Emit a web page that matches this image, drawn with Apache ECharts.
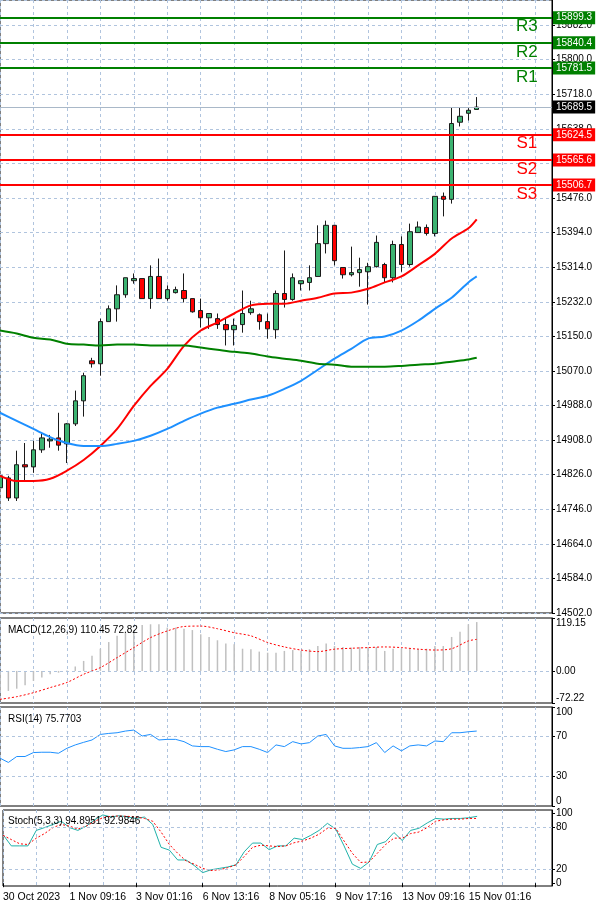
<!DOCTYPE html>
<html><head><meta charset="utf-8">
<script src="https://cdn.jsdelivr.net/npm/echarts@6/dist/echarts.min.js"></script>
<style>html,body{margin:0;padding:0;background:#fff}#c{width:600px;height:907px}</style>
</head><body><div id="c"></div>
<script>
// ---- data ----
const xTickLabels = ['30 Oct 2023','1 Nov 09:16','3 Nov 01:16','6 Nov 13:16','8 Nov 05:16','9 Nov 17:16','13 Nov 09:16','15 Nov 01:16'];
const priceTickLabels = ['14502.0','14584.0','14664.0','14746.0','14826.0','14908.0','14988.0','15070.0','15150.0','15232.0','15314.0','15394.0','15476.0','15558.0','15638.0','15718.0','15800.0','15882.0'];
// [open, close, low, high]
const candles = [
[14796,14824,14789,14836],[14819,14772,14765,14824],[14772,14850,14765,14883],[14850,14845,14812,14901],
[14845,14885,14831,14906],[14885,14913,14878,14923],[14906,14910,14890,14920],[14913,14896,14883,14972],
[14899,14946,14854,14948],[14946,15000,14941,15024],[15000,15059,14963,15066],[15094,15087,15078,15101],
[15087,15186,15059,15193],[15186,15216,15186,15224],[15216,15249,15186,15271],[15249,15289,15242,15289],
[15282,15287,15275,15299],[15287,15240,15240,15287],[15240,15292,15216,15318],[15292,15240,15240,15334],
[15240,15261,15235,15271],[15254,15261,15252,15268],[15259,15240,15231,15299],[15240,15209,15207,15240],
[15212,15195,15172,15240],[15195,15205,15169,15205],[15193,15179,15169,15205],[15179,15167,15130,15195],
[15167,15177,15130,15193],[15179,15205,15160,15259],[15207,15216,15202,15235],[15202,15186,15167,15205],
[15186,15169,15146,15205],[15167,15252,15146,15259],[15252,15238,15219,15353],[15238,15289,15235,15299],
[15275,15282,15259,15282],[15278,15289,15259,15318],[15292,15369,15292,15412],[15369,15412,15346,15423],
[15412,15329,15318,15412],[15313,15296,15287,15313],[15296,15301,15292,15362],[15301,15308,15268,15336],
[15303,15315,15226,15324],[15315,15372,15313,15388],[15320,15289,15278,15324],[15289,15367,15278,15376],
[15367,15320,15303,15386],[15320,15397,15315,15416],[15395,15408,15395,15421],[15407,15393,15388,15414],
[15393,15480,15386,15480],[15480,15473,15433,15489],[15473,15651,15463,15689],[15654,15668,15644,15689],
[15675,15682,15658,15687],[15684,15689.5,15684,15713]
];
const maIdx = [0,2,4,6,8,10,12,14,16,18,20,22,24,26,28,30,32,34,36,38,40,42,44,46,48,50,52,54,56,57];
const maRed = [14824,14812,14812,14817,14836,14861,14894,14934,14988,15035,15075,15129,15165,15184,15205,15224,15228,15228,15235,15242,15252,15254,15263,15278,15292,15318,15345,15381,15405,15426];
const maBlue = [14972,14953,14934,14915,14901,14894,14894,14899,14906,14918,14934,14953,14970,14984,14993,15003,15012,15028,15047,15073,15099,15122,15146,15151,15165,15188,15216,15242,15278,15292];
const maGreen = [15165,15158,15148,15144,15134,15132,15130,15132,15132,15130,15130,15130,15125,15120,15115,15111,15104,15099,15094,15087,15085,15080,15080,15080,15082,15085,15087,15092,15097,15101];
const levelNames = ['R3','R2','R1','S1','S2','S3'];
const levelValues = [15899.3,15840.4,15781.5,15624.5,15565.6,15506.7];
const lastPrice = 15689.5;
const macdHist = [-48,-45,-40,-32,-22.5,-15,-7.5,-4,1,10,22.5,34,50,65,79,86,92,103.5,105,105,97.5,97.5,95,92,82.5,76.5,69,61.5,60,50,49,43.5,41,41,45,47,45,49,56,61.5,56,54,52.5,54,54,54,45,50,50,50,50,50,56,56,76.5,88,105,110];
const macdSigIdx = maIdx;
const macdSignal = [-64,-58,-49,-37.5,-26,-7.5,7.5,30,52.5,75,90,100,101,95,86,79,64,54,47,43.5,49,51,52.5,54,52.5,49,47,50,67.5,71];
const rsi = [48.3,44,50,50,54,54.3,54.3,53.3,58.3,61.7,64.3,66.7,72.3,73.3,74,75.7,76.7,70.7,72.3,66.7,67.3,67.3,65,60.7,60,60,57.3,55,56.7,60,60,57.3,54,61.7,60,65,62.7,64,70.7,72.3,60.7,58.3,58.3,59,60,64,54,60.7,55.7,60.7,61.7,60.7,65.7,65,74,74,75,75.7];
const stochK = [69,53,53,53,75,79,83.5,88,79,75,81,90,97,94,96,94,92,94,83.5,51,47,33,33,25,15,19,21,23,26,44.6,57,57,47.6,53,53,64,62,68,75,85,77,53,27,21,30,55,59,72,60.6,75,78,85.6,92,91,92,92,93,95];
const stochD = [68,62,56,55,64,70.5,79,83.5,81,77,81,88,93,95,95.5,95,94,92,88,72.7,55,42.5,31.7,27,21,18,19,22,26,38,51,54,53,52,53,57.5,60,64,69.6,78,78,60,42.5,29.5,30,42.5,55,64,64,70.5,72.7,79,88,90,91,91,92,92];

// ---- chart ----
const N = 67;
const cats = Array.from({length:N},(_,i)=>i);
const pair = (idx, vals) => idx.map((k,j)=>[k, vals[j]]);
const gridCol = '#b0c4de';
const FONT = 'Liberation Sans';
const xBase = (gi, showLabel) => ({
  type:'category', gridIndex:gi, data:cats, boundaryGap:false,
  axisLine:{show:false}, axisTick:{show:showLabel, interval:7, length:4, lineStyle:{color:'#000'}},
  axisLabel:{show:showLabel, interval:7, align:'left', color:'#000', fontFamily:FONT, fontSize:10.5, margin:6,
    formatter:(v)=> xTickLabels[Math.round(v/8)] || ''},
  splitLine:{show:true, interval:3, lineStyle:{color:gridCol, type:[3,3]}}
});
const axLbl = {color:'#000', fontFamily:FONT, fontSize:10, margin:4};
const pMin = 14502, pInt = 1380/17, pMax = 15940.9;
const levelColor = n => n[0]==='R' ? '#008000' : '#ff0000';

const option = {
  animation:false, backgroundColor:'#fff',
  title:[
    {text:'MACD(12,26,9) 110.45 72.82', left:3, top:620, textStyle:{fontSize:10, fontWeight:'normal', color:'#000', fontFamily:FONT}},
    {text:'RSI(14) 75.7703', left:3, top:709, textStyle:{fontSize:10, fontWeight:'normal', color:'#000', fontFamily:FONT}},
    {text:'Stoch(5,3,3) 94.8951 92.9846', left:3, top:811, textStyle:{fontSize:10, fontWeight:'normal', color:'#000', fontFamily:FONT}}
  ],
  grid:[
    {left:0, right:48, top:0, height:613, show:true, borderColor:'#000', borderWidth:1},
    {left:0, right:48, top:618, height:85, show:true, borderColor:'#000', borderWidth:1},
    {left:0, right:48, top:707, height:99, show:true, borderColor:'#000', borderWidth:1},
    {left:0, right:48, top:810, height:76, show:true, borderColor:'#000', borderWidth:1}
  ],
  xAxis:[xBase(0,false), xBase(1,false), xBase(2,false), xBase(3,true)],
  yAxis:[
    {gridIndex:0, position:'right', min:pMin, max:pMax, interval:pInt,
     axisLine:{show:true, lineStyle:{color:'#000'}}, axisTick:{show:true, length:3, lineStyle:{color:'#000'}},
     axisLabel:Object.assign({}, axLbl, {showMaxLabel:false, formatter:v=>priceTickLabels[Math.round((v-pMin)/pInt)]||''}),
     splitLine:{show:true, lineStyle:{color:gridCol, type:[3,3]}}},
    {gridIndex:1, position:'right', min:-72.22, max:119.15,
     axisLine:{show:true, lineStyle:{color:'#000'}}, axisTick:{show:true, length:3, customValues:[-72.22,0,119.15]},
     axisLabel:Object.assign({}, axLbl, {customValues:[-72.22,0,119.15], verticalAlignMaxLabel:'top', verticalAlignMinLabel:'bottom', formatter:v=>v.toFixed(2)}),
     splitLine:{show:false}},
    {gridIndex:2, position:'right', min:0, max:100,
     axisLine:{show:true, lineStyle:{color:'#000'}}, axisTick:{show:true, length:3, customValues:[0,30,70,100]},
     axisLabel:Object.assign({}, axLbl, {customValues:[0,30,70,100], verticalAlignMaxLabel:'top', verticalAlignMinLabel:'bottom'}),
     splitLine:{show:false}},
    {gridIndex:3, position:'right', min:-4, max:104,
     axisLine:{show:true, lineStyle:{color:'#000'}}, axisTick:{show:true, length:3, customValues:[0,20,80,100]},
     axisLabel:Object.assign({}, axLbl, {customValues:[0,20,80,100]}),
     splitLine:{show:false}}
  ],
  series:[
    {type:'candlestick', xAxisIndex:0, yAxisIndex:0, data:candles, barWidth:5,
     itemStyle:{color:'#3cb371', color0:'#ff0000', borderColor:'#1a1a1a', borderColor0:'#1a1a1a', borderWidth:1},
     markLine:{symbol:'none', silent:true,
       data:[
         ...levelValues.map((v,i)=>({yAxis:v, lineStyle:{color:levelColor(levelNames[i]), width:2, type:'solid'},
           label:{show:true, position:'end', distance:1, formatter:v.toFixed(1), color:'#fff', backgroundColor:levelColor(levelNames[i]), padding:[2,3,1,3], fontSize:10, fontFamily:FONT}})),
         {yAxis:lastPrice, lineStyle:{color:'#a9b8c8', width:1, type:'solid'},
          label:{show:true, position:'end', distance:1, formatter:lastPrice.toFixed(1), color:'#fff', backgroundColor:'#000', padding:[2,3,1,3], fontSize:10, fontFamily:FONT}}
       ]},
     markPoint:{symbol:'circle', symbolSize:0, silent:true,
       data: levelNames.map((n,i)=>({coord:[63, levelValues[i]], label:{show:true, formatter:n, color:levelColor(n), fontSize:17, fontFamily:FONT, offset:[0,9]}}))}
    },
    {type:'line', xAxisIndex:0, yAxisIndex:0, data:pair(maIdx,maRed), smooth:0.3, showSymbol:false, lineStyle:{color:'#ff0000', width:2}},
    {type:'line', xAxisIndex:0, yAxisIndex:0, data:pair(maIdx,maBlue), smooth:0.3, showSymbol:false, lineStyle:{color:'#1e90ff', width:2}},
    {type:'line', xAxisIndex:0, yAxisIndex:0, data:pair(maIdx,maGreen), smooth:0.3, showSymbol:false, lineStyle:{color:'#008000', width:2}},
    {type:'bar', xAxisIndex:1, yAxisIndex:1, data:macdHist, barWidth:1.5, itemStyle:{color:'#c0c0c0'}},
    {type:'line', xAxisIndex:1, yAxisIndex:1, data:pair(macdSigIdx,macdSignal), smooth:0.3, showSymbol:false, lineStyle:{color:'#ff0000', width:1, type:[2,2]},
     markLine:{symbol:'none', silent:true, label:{show:false}, data:[{yAxis:0}], lineStyle:{color:gridCol, type:[3,3], width:1}}},
    {type:'line', xAxisIndex:2, yAxisIndex:2, data:rsi, showSymbol:false, lineStyle:{color:'#1e90ff', width:1},
     markLine:{symbol:'none', silent:true, label:{show:false}, data:[{yAxis:30},{yAxis:70}], lineStyle:{color:gridCol, type:[3,3], width:1}}},
    {type:'line', xAxisIndex:3, yAxisIndex:3, data:stochK, showSymbol:false, lineStyle:{color:'#20b2aa', width:1},
     markLine:{symbol:'none', silent:true, label:{show:false}, data:[{yAxis:20},{yAxis:80}], lineStyle:{color:gridCol, type:[3,3], width:1}}},
    {type:'line', xAxisIndex:3, yAxisIndex:3, data:stochD, showSymbol:false, lineStyle:{color:'#ff0000', width:1, type:[2,2]}}
  ]
};
const chart = echarts.init(document.getElementById('c'), null, {renderer:'canvas'});
chart.setOption(option);
</script></body></html>
